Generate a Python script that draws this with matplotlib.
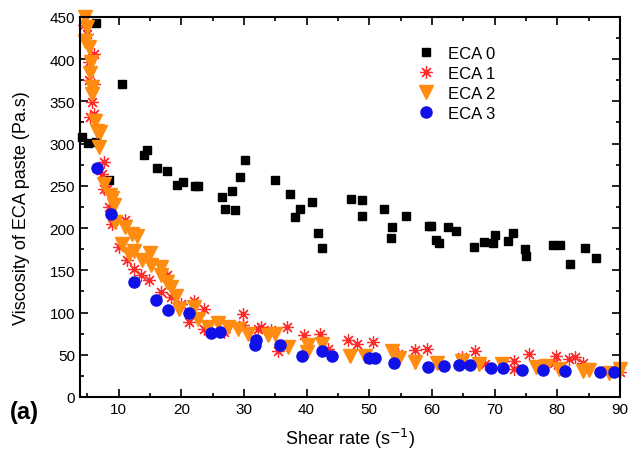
import matplotlib
matplotlib.use("Agg")
import matplotlib.pyplot as plt
from matplotlib.ticker import MultipleLocator

plt.rcParams['font.family'] = ['Liberation Sans', 'DejaVu Sans']

eca0_x = [6.4, 10.6, 4.1, 5.1, 6.4, 8.4, 14.1, 14.5, 16.1, 17.7, 19.4, 20.2, 22.2, 22.7,
          26.5, 28.1, 29.4, 30.1, 27.0, 28.5, 34.9, 37.4, 40.8, 38.9, 38.2, 41.8, 42.4,
          47.1, 48.8, 48.8, 52.3, 53.7, 53.4, 55.9, 59.5, 59.9, 62.6, 60.7, 61.1, 63.9,
          66.8, 68.3, 69.7, 70.0, 72.1, 72.9, 74.9, 75.1, 79.3, 80.5, 82.1, 84.4, 86.2]
eca0_y = [443, 370, 308, 301, 302, 257, 286, 292, 271, 267, 251, 254, 250, 250,
          237, 244, 260, 280, 222, 221, 257, 240, 231, 222, 213, 194, 176,
          234, 233, 214, 222, 201, 188, 214, 202, 203, 201, 186, 182, 197,
          177, 183, 182, 192, 185, 194, 175, 167, 180, 180, 158, 176, 164]

eca1_x = [4.5, 5.0, 6.0, 5.2, 5.2, 6.0, 5.8, 6.0, 5.4, 7.6, 7.4, 8.2, 7.6, 8.4, 9.0,
          11.1, 10.0, 11.4, 12.5, 13.5, 14.9, 17.8, 16.7, 18.3, 19.9, 22.1, 23.7, 21.3,
          23.7, 26.9, 29.8, 29.8, 32.2, 32.8, 34.4, 36.8, 39.6, 42.1, 35.4, 43.4, 46.6,
          48.0, 50.6, 54.6, 57.3, 59.2, 64.8, 66.9, 68.5, 73.1, 73.1, 75.5, 79.8, 79.5,
          81.9, 82.9, 84.1, 90.0]
eca1_y = [440, 430, 406, 396, 375, 371, 349, 335, 331, 278, 264, 246, 246, 225, 205,
          209, 177, 162, 152, 144, 138, 144, 124, 118, 110, 114, 104, 89,
          81, 77, 98, 85, 81, 83, 79, 83, 73, 75, 55, 57, 68,
          63, 65, 51, 56, 57, 47, 55, 39, 43, 33, 51, 49, 40,
          45, 47, 40, 30]

eca2_x = [4.7, 4.9, 4.7, 5.2, 5.6, 5.5, 5.8, 5.8, 6.3, 6.6, 7.1, 6.8, 8.7, 7.6, 9.0,
          9.2, 9.5, 11.1, 12.2, 13.0, 10.6, 12.5, 11.7, 15.0, 13.8, 15.1, 16.7, 16.7,
          17.8, 18.3, 19.1, 19.7, 22.1, 22.6, 24.2, 25.8, 27.4, 29.0, 30.6, 33.8, 34.9,
          37.0, 40.2, 40.0, 42.4, 46.9, 49.3, 53.6, 54.7, 57.3, 60.8, 64.8, 67.5, 71.2,
          76.6, 78.2, 80.3, 84.1, 85.1, 88.3, 90.0]
eca2_y = [450, 438, 422, 414, 396, 383, 367, 359, 327, 315, 314, 296, 239, 252, 235,
          227, 207, 201, 193, 191, 181, 173, 169, 171, 162, 156, 154, 144,
          136, 130, 120, 104, 106, 92, 83, 87, 83, 81, 75, 73, 75,
          59, 61, 53, 63, 49, 48, 54, 46, 42, 40, 43, 39, 39,
          35, 37, 33, 31, 32, 28, 33]

eca3_x = [6.5, 8.8, 12.4, 16.0, 17.9, 21.3, 24.7, 26.2, 32.0, 31.7, 35.8, 39.2, 42.5,
          44.1, 49.9, 50.9, 53.9, 59.4, 62.0, 64.4, 66.1, 69.5, 71.3, 74.4, 77.8, 81.2,
          86.8, 89.1]
eca3_y = [271, 217, 136, 115, 103, 100, 76, 77, 68, 61, 62, 49, 55,
          48, 46, 46, 40, 36, 37, 38, 38, 34, 34, 32, 32, 31,
          30, 29]

fig = plt.figure(figsize=(6.28, 4.52), dpi=100)
ax = fig.add_axes([0.127, 0.1195, 0.860, 0.841])

ax.plot(eca0_x, eca0_y, ls='none', marker='s', ms=6, color='black', label='ECA 0', clip_on=False)
ax.plot(eca1_x, eca1_y, ls='none', marker=(8, 2, 0), ms=9, mew=0.9, color='#ff2a2a',
        label='ECA 1', clip_on=False)
ax.plot(eca2_x, eca2_y, ls='none', marker='v', ms=10.5, color='#ff8c10', label='ECA 2', clip_on=False)
ax.plot(eca3_x, eca3_y, ls='none', marker='o', ms=8, color='#1010e8', label='ECA 3', clip_on=False)

ax.set_xlim(3.8, 90)
ax.set_ylim(0, 450)
ax.xaxis.set_major_locator(MultipleLocator(10))
ax.xaxis.set_minor_locator(MultipleLocator(5))
ax.yaxis.set_major_locator(MultipleLocator(50))
ax.yaxis.set_minor_locator(MultipleLocator(25))
ax.tick_params(which='both', direction='in', top=True, right=True, labelsize=11, width=1.2)
ax.tick_params(which='major', length=6)
ax.tick_params(which='minor', length=3)
for s in ax.spines.values():
    s.set_linewidth(1.5)

ax.set_xlabel('Shear rate (s$^{-1}$)', fontsize=13, labelpad=7)
ax.set_ylabel('Viscosity of ECA paste (Pa.s)', fontsize=13, labelpad=14)

leg = ax.legend(loc='upper left', bbox_to_anchor=(0.59, 0.962), frameon=False, fontsize=12,
                handletextpad=0.6, labelspacing=0.3, handlelength=1.5)

fig.text(0.015, 0.072, '(a)', fontsize=17, fontweight='bold')

fig.savefig('out.png', dpi=100)
